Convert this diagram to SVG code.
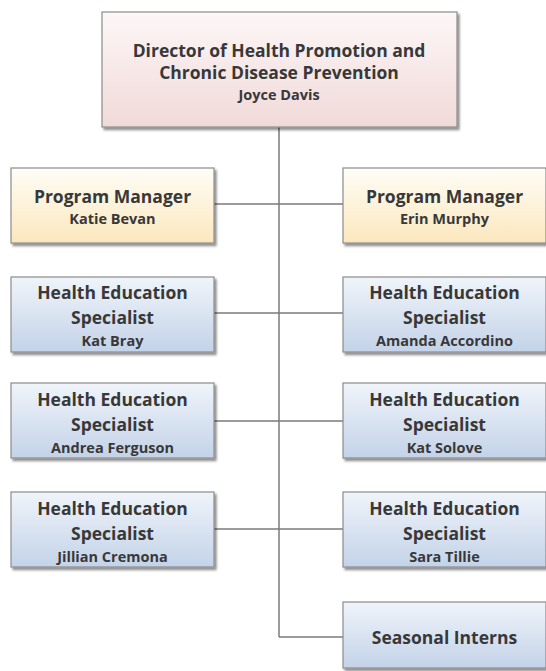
<svg xmlns="http://www.w3.org/2000/svg" width="546" height="671" viewBox="0 0 546 671">
<defs>
<linearGradient id="gPink" x1="0" y1="0" x2="0" y2="1"><stop offset="0" stop-color="#fdf7f7"/><stop offset="1" stop-color="#f1d9d9"/></linearGradient>
<linearGradient id="gGold" x1="0" y1="0" x2="0" y2="1"><stop offset="0" stop-color="#fffdf7"/><stop offset="1" stop-color="#fbe7bd"/></linearGradient>
<linearGradient id="gBlue" x1="0" y1="0" x2="0" y2="1"><stop offset="0" stop-color="#f0f4fa"/><stop offset="1" stop-color="#c3d3e8"/></linearGradient>
<filter id="sh" x="-10%" y="-10%" width="120%" height="130%"><feDropShadow dx="2" dy="2.5" stdDeviation="1.3" flood-color="#000" flood-opacity="0.45"/></filter>
</defs>
<style>
.box{stroke:#8c8c8c;stroke-width:1.2;filter:url(#sh)}
.pink{fill:url(#gPink)}.gold{fill:url(#gGold)}.blue{fill:url(#gBlue)}
text{font-family:"Open Sans","Noto Sans","DejaVu Sans",sans-serif;font-weight:700;fill:#383838;text-anchor:middle}
.t{font-size:17.5px}.n{font-size:14.5px}
.c{stroke:#7a7a7a;stroke-width:1.5;fill:none}
</style>
<g id="connectors">
<line class="c" x1="279" y1="127" x2="279" y2="637"/>
<line class="c" x1="214" y1="204" x2="343" y2="204"/>
<line class="c" x1="214" y1="313" x2="343" y2="313"/>
<line class="c" x1="214" y1="421" x2="343" y2="421"/>
<line class="c" x1="214" y1="529" x2="343" y2="529"/>
<line class="c" x1="279" y1="637" x2="343" y2="637"/>
</g>
<g id="director">
<rect class="box pink" x="102" y="12" width="355" height="115"/>
<text class="t" x="279" y="57">Director of Health Promotion and</text>
<text class="t" x="279" y="79">Chronic Disease Prevention</text>
<text class="n" x="279" y="100">Joyce Davis</text>
</g>
<g id="pm-katie">
<rect class="box gold" x="11" y="168" width="203" height="75"/>
<text class="t" x="112.5" y="203">Program Manager</text>
<text class="n" x="112.5" y="224">Katie Bevan</text>
</g>
<g id="pm-erin">
<rect class="box gold" x="343" y="168" width="203" height="75"/>
<text class="t" x="444.5" y="203">Program Manager</text>
<text class="n" x="444.5" y="224">Erin Murphy</text>
</g>
<g id="hes-kat-bray">
<rect class="box blue" x="11" y="277" width="203" height="75"/>
<text class="t" x="112.5" y="299">Health Education</text>
<text class="t" x="112.5" y="324">Specialist</text>
<text class="n" x="112.5" y="346">Kat Bray</text>
</g>
<g id="hes-amanda">
<rect class="box blue" x="343" y="277" width="203" height="75"/>
<text class="t" x="444.5" y="299">Health Education</text>
<text class="t" x="444.5" y="324">Specialist</text>
<text class="n" x="444.5" y="346">Amanda Accordino</text>
</g>
<g id="hes-andrea">
<rect class="box blue" x="11" y="383" width="203" height="75"/>
<text class="t" x="112.5" y="406">Health Education</text>
<text class="t" x="112.5" y="431">Specialist</text>
<text class="n" x="112.5" y="453">Andrea Ferguson</text>
</g>
<g id="hes-kat-solove">
<rect class="box blue" x="343" y="383" width="203" height="75"/>
<text class="t" x="444.5" y="406">Health Education</text>
<text class="t" x="444.5" y="431">Specialist</text>
<text class="n" x="444.5" y="453">Kat Solove</text>
</g>
<g id="hes-jillian">
<rect class="box blue" x="11" y="492" width="203" height="75"/>
<text class="t" x="112.5" y="515">Health Education</text>
<text class="t" x="112.5" y="540">Specialist</text>
<text class="n" x="112.5" y="562">Jillian Cremona</text>
</g>
<g id="hes-sara">
<rect class="box blue" x="343" y="492" width="203" height="75"/>
<text class="t" x="444.5" y="515">Health Education</text>
<text class="t" x="444.5" y="540">Specialist</text>
<text class="n" x="444.5" y="562">Sara Tillie</text>
</g>
<g id="seasonal-interns">
<rect class="box blue" x="343" y="602" width="203" height="66"/>
<text class="t" x="444.5" y="644">Seasonal Interns</text>
</g>
</svg>
